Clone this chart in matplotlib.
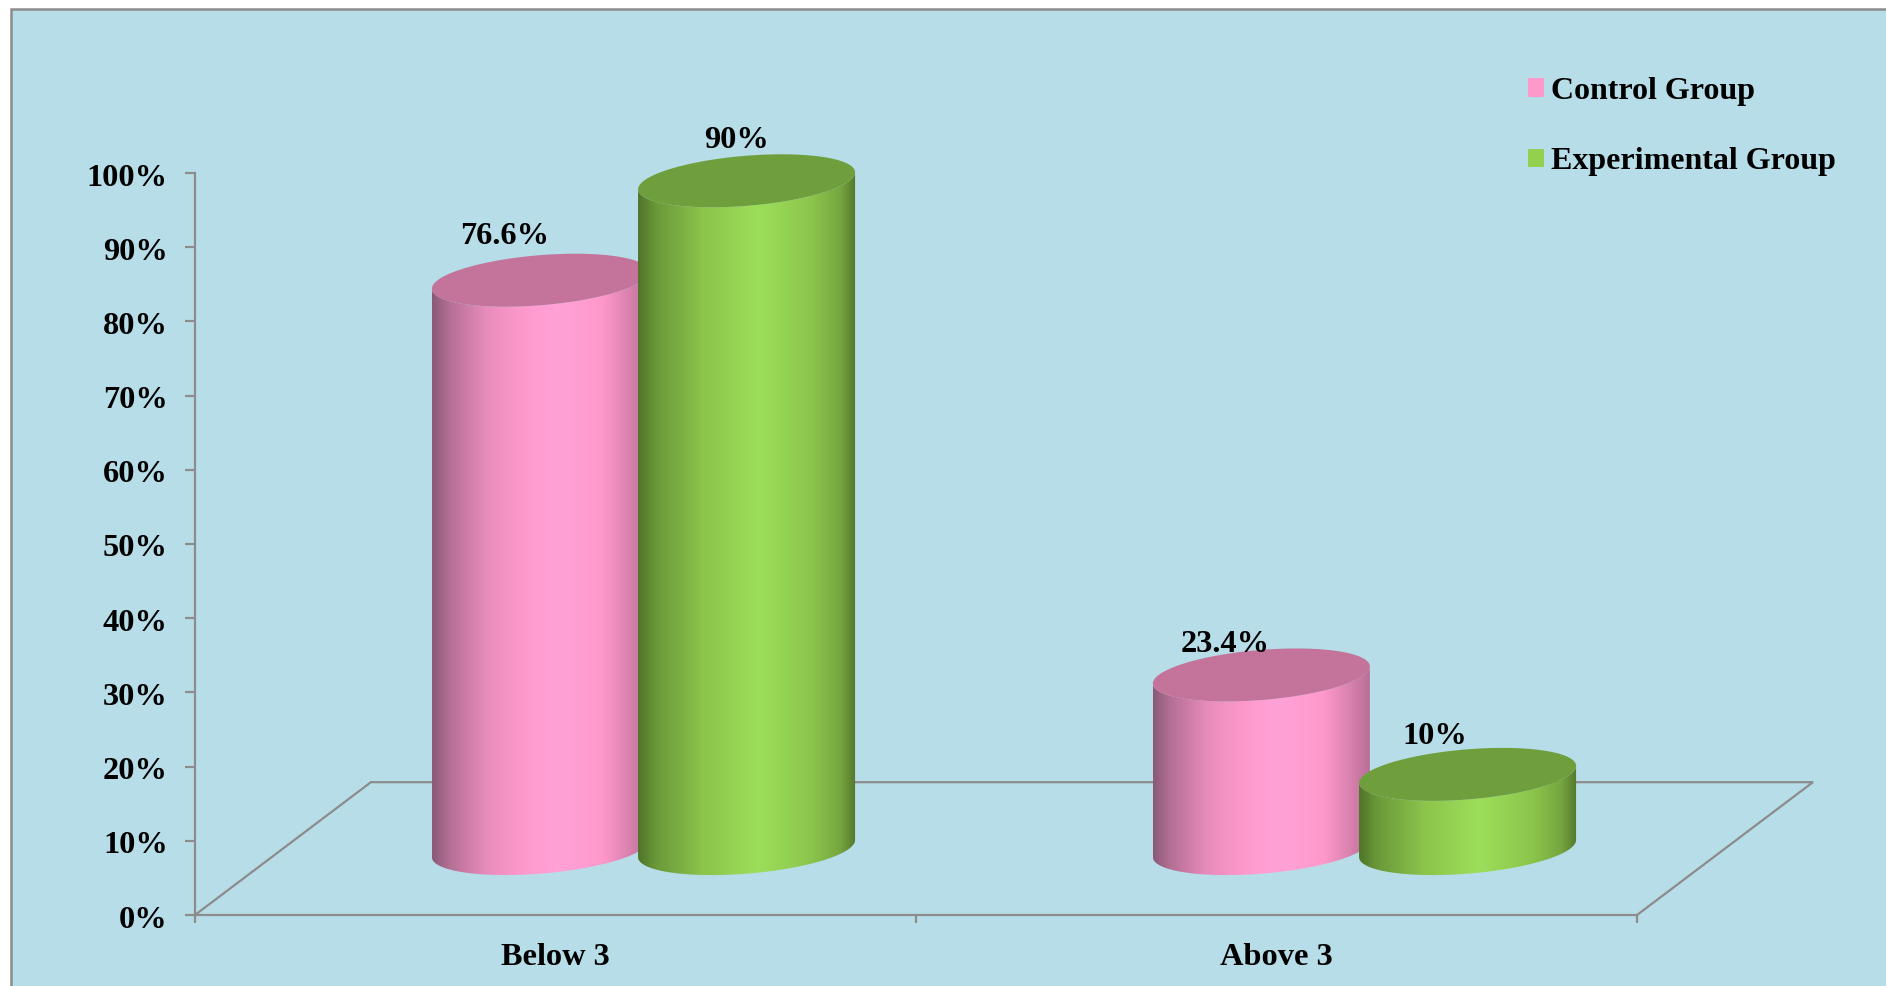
import numpy as np
import matplotlib
matplotlib.use("Agg")
import matplotlib.pyplot as plt
from matplotlib.colors import LinearSegmentedColormap
from matplotlib.patches import Patch, Polygon, Rectangle
from matplotlib.transforms import ScaledTranslation

categories = ["Below 3", "Above 3"]
series_names = ["Control Group", "Experimental Group"]
control_values = [76.6, 23.4]
experimental_values = [90, 10]
value_labels = [["76.6%", "23.4%"], ["90%", "10%"]]
y_ticks = [0, 10, 20, 30, 40, 50, 60, 70, 80, 90, 100]
y_tick_labels = ["0%", "10%", "20%", "30%", "40%", "50%", "60%", "70%", "80%", "90%", "100%"]

# look of the fake 3D box, in data units
DEPTH_X = 0.244
DEPTH_Y = 17.9
BAR_OFFSET = 0.143
RADIUS_X = 0.1505
RADIUS_Y = 3.38
TILT_Y = 1.15

BG = "#B7DDE8"
GREY = "#8C8C8C"
FONT = "Liberation Serif"
FONT_PT = 23.3
LEGEND_PT = 23
LINE_W = 1.6

pink_stops = [(0, "#8A5A78"), (0.08, "#B56F95"), (0.25, "#E88CBC"), (0.42, "#FF99CC"),
              (0.58, "#FFA2D8"), (0.78, "#FF99CC"), (0.9, "#DB83B0"), (1, "#B66F95")]
green_stops = [(0, "#4F7429"), (0.08, "#6A9839"), (0.3, "#8CC44C"), (0.55, "#9CDF5A"),
               (0.8, "#8CC44C"), (0.93, "#76A63F"), (1, "#55782D")]
styles = [
    {"cmap": LinearSegmentedColormap.from_list("pink", pink_stops), "top": "#C4739A", "key": "#FF99CC"},
    {"cmap": LinearSegmentedColormap.from_list("green", green_stops), "top": "#6F9E3C", "key": "#92D050"},
]
# label shift from the centre of each cylinder top, in pixels
label_shift = [[(-36, 44), (-36, 30)], [(-10, 40), (-33, 38)]]


def ellipse(cx, cy, t):
    return np.column_stack([cx + RADIUS_X * np.cos(t), cy + RADIUS_Y * np.sin(t) + TILT_Y * np.cos(t)])


def cylinder(ax, cx, value, style, z):
    base = DEPTH_Y / 2
    top = base + value
    front = np.linspace(np.pi, 2 * np.pi, 90)
    outline = np.vstack([ellipse(cx, base, front), ellipse(cx, top, front[::-1])])
    body = Polygon(outline, closed=True, transform=ax.transData, facecolor="none", edgecolor="none")
    ax.add_patch(body)
    grad = np.linspace(0, 1, 256).reshape(1, -1)
    im = ax.imshow(grad, cmap=style["cmap"], aspect="auto", zorder=z, interpolation="bilinear",
                   extent=[cx - RADIUS_X, cx + RADIUS_X, base - 10, top + 10])
    im.set_clip_path(body)
    cap = ellipse(cx, top, np.linspace(0, 2 * np.pi, 180))
    ax.add_patch(Polygon(cap, closed=True, facecolor=style["top"], edgecolor="none",
                         zorder=z + 0.1, clip_on=False))
    return top


plt.rcParams["font.family"] = [FONT, "DejaVu Serif"]
plt.rcParams["font.weight"] = "bold"

fig = plt.figure(figsize=(18.86, 9.86), dpi=100, facecolor="white")
fig.patches.append(Rectangle((11 / 1886, -0.1), 1.2, (977 / 986) + 0.1, transform=fig.transFigure,
                             facecolor=BG, edgecolor=GREY, linewidth=1.8, zorder=-1))

ax = fig.add_axes([195 / 1886, 71 / 986, 1442 / 1886, 742 / 986])
ax.patch.set_visible(False)

# floor of the box
ax.plot([0, DEPTH_X, 2 + DEPTH_X, 2], [0, DEPTH_Y, DEPTH_Y, 0], color=GREY, lw=LINE_W,
        clip_on=False, zorder=1, solid_joinstyle="miter")

x_pos = np.arange(len(categories)) + 0.5
for s, values in enumerate([control_values, experimental_values]):
    sign = -1 if s == 0 else 1
    for i, value in enumerate(values):
        cx = x_pos[i] + sign * BAR_OFFSET + DEPTH_X / 2
        top = cylinder(ax, cx, value, styles[s], 3 + s * 2)
        ax.annotate(value_labels[s][i], (cx, top), xytext=label_shift[s][i], textcoords="offset pixels",
                    ha="center", va="center", fontsize=FONT_PT, fontweight="bold", color="black",
                    zorder=10, annotation_clip=False)

ax.set_xlim(0, 2)
ax.set_ylim(0, 100)
for side in ["top", "right"]:
    ax.spines[side].set_visible(False)
for side in ["left", "bottom"]:
    ax.spines[side].set_color(GREY)
    ax.spines[side].set_linewidth(LINE_W)

ax.set_yticks(y_ticks)
ax.set_yticklabels(y_tick_labels, fontsize=FONT_PT, fontweight="bold")
ax.tick_params(axis="y", length=7.2, width=LINE_W, color=GREY, pad=12.5)
nudge = ScaledTranslation(0, -1.5 / 100, fig.dpi_scale_trans)
for lab in ax.get_yticklabels():
    lab.set_transform(lab.get_transform() + nudge)
ax.set_xticks([0, 1, 2])
ax.set_xticklabels([])
ax.set_xticks(x_pos, minor=True)
ax.set_xticklabels(categories, minor=True, fontsize=FONT_PT, fontweight="bold")
ax.tick_params(axis="x", which="major", length=6, width=LINE_W, color=GREY)
ax.tick_params(axis="x", which="minor", length=0, pad=20)

handles = [Patch(facecolor=st["key"], edgecolor="none") for st in styles]
fig.legend(handles, series_names, loc="upper left", bbox_to_anchor=(1515 / 1886, 1 - 64 / 986),
           frameon=False, prop={"family": FONT, "weight": "bold", "size": LEGEND_PT},
           handlelength=0.51, handleheight=0.51, handletextpad=0.22, labelspacing=1.3,
           borderpad=0.4, borderaxespad=0)

fig.savefig("out.png", dpi=100, facecolor="white")
